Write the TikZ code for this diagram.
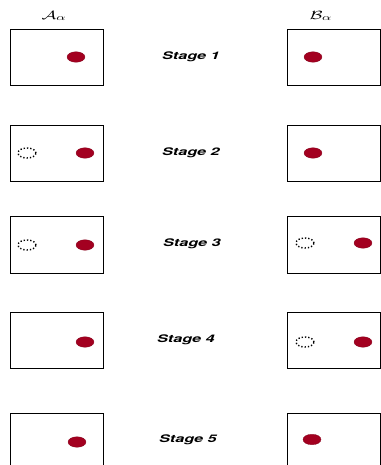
\documentclass[tikz,border=0pt]{standalone}
\usepackage{fontspec}
\setsansfont{TeX Gyre Heros}
\usetikzlibrary{shapes.geometric}
\definecolor{dotred}{RGB}{163,0,32}
\tikzset{
  panel/.style={draw=black, line width=1bp, minimum width=93bp, minimum height=56bp, inner sep=0pt, anchor=north west},
  fulldot/.style={ellipse, fill=dotred, draw=dotred!80!black, line width=0.3bp, minimum width=18bp, minimum height=10.5bp, inner sep=0pt},
  emptydot/.style={ellipse, draw=black, line width=1.4bp, dash pattern=on 1.3bp off 2bp, minimum width=18bp, minimum height=10bp, inner sep=0pt},
  stagelabel/.style={font=\fontsize{10.5}{12}\sffamily\bfseries\itshape, inner sep=0pt},
  headlabel/.style={font=\fontsize{13}{15}\selectfont, inner sep=0pt}
}
\newcommand{\widetext}[1]{\scalebox{1.55}[1]{#1}}
\begin{document}
\begin{tikzpicture}[x=1bp,y=-1bp]
\useasboundingbox (0,0) rectangle (380,465);
% headers
\node[headlabel] (ha) at (54,16) {\widetext{$\mathcal{A}_\alpha$}};
\node[headlabel] (hb) at (321,16) {\widetext{$\mathcal{B}_\alpha$}};
% stage 1
\node[panel] (a1) at (9.5,29.5) {};
\node[panel] (b1) at (286.5,29.5) {};
\node[fulldot] (a1f) at (76,57) {};
\node[fulldot] (b1f) at (313,57) {};
\node[stagelabel] (s1) at (191,57) {\widetext{Stage 1}};
% stage 2
\node[panel] (a2) at (9.5,125.5) {};
\node[panel] (b2) at (286.5,125.5) {};
\node[emptydot] (a2e) at (27,153) {};
\node[fulldot] (a2f) at (85,153) {};
\node[fulldot] (b2f) at (313,153) {};
\node[stagelabel] (s2) at (191,153) {\widetext{Stage 2}};
% stage 3
\node[panel] (a3) at (9.5,216.5) {};
\node[panel] (b3) at (286.5,216.5) {};
\node[emptydot] (a3e) at (27,245) {};
\node[fulldot] (a3f) at (85,245) {};
\node[emptydot] (b3e) at (305,243) {};
\node[fulldot] (b3f) at (363,243) {};
\node[stagelabel] (s3) at (192,244) {\widetext{Stage 3}};
% stage 4
\node[panel] (a4) at (9.5,311.5) {};
\node[panel] (b4) at (286.5,311.5) {};
\node[fulldot] (a4f) at (85,342) {};
\node[emptydot] (b4e) at (305,342) {};
\node[fulldot] (b4f) at (363,342) {};
\node[stagelabel] (s4) at (186,340) {\widetext{Stage 4}};
% stage 5
\node[panel] (a5) at (9.5,412.5) {};
\node[panel] (b5) at (286.5,412.5) {};
\node[fulldot] (a5f) at (77,442) {};
\node[fulldot] (b5f) at (312,439.5) {};
\node[stagelabel] (s5) at (188,440) {\widetext{Stage 5}};
\end{tikzpicture}
\end{document}
